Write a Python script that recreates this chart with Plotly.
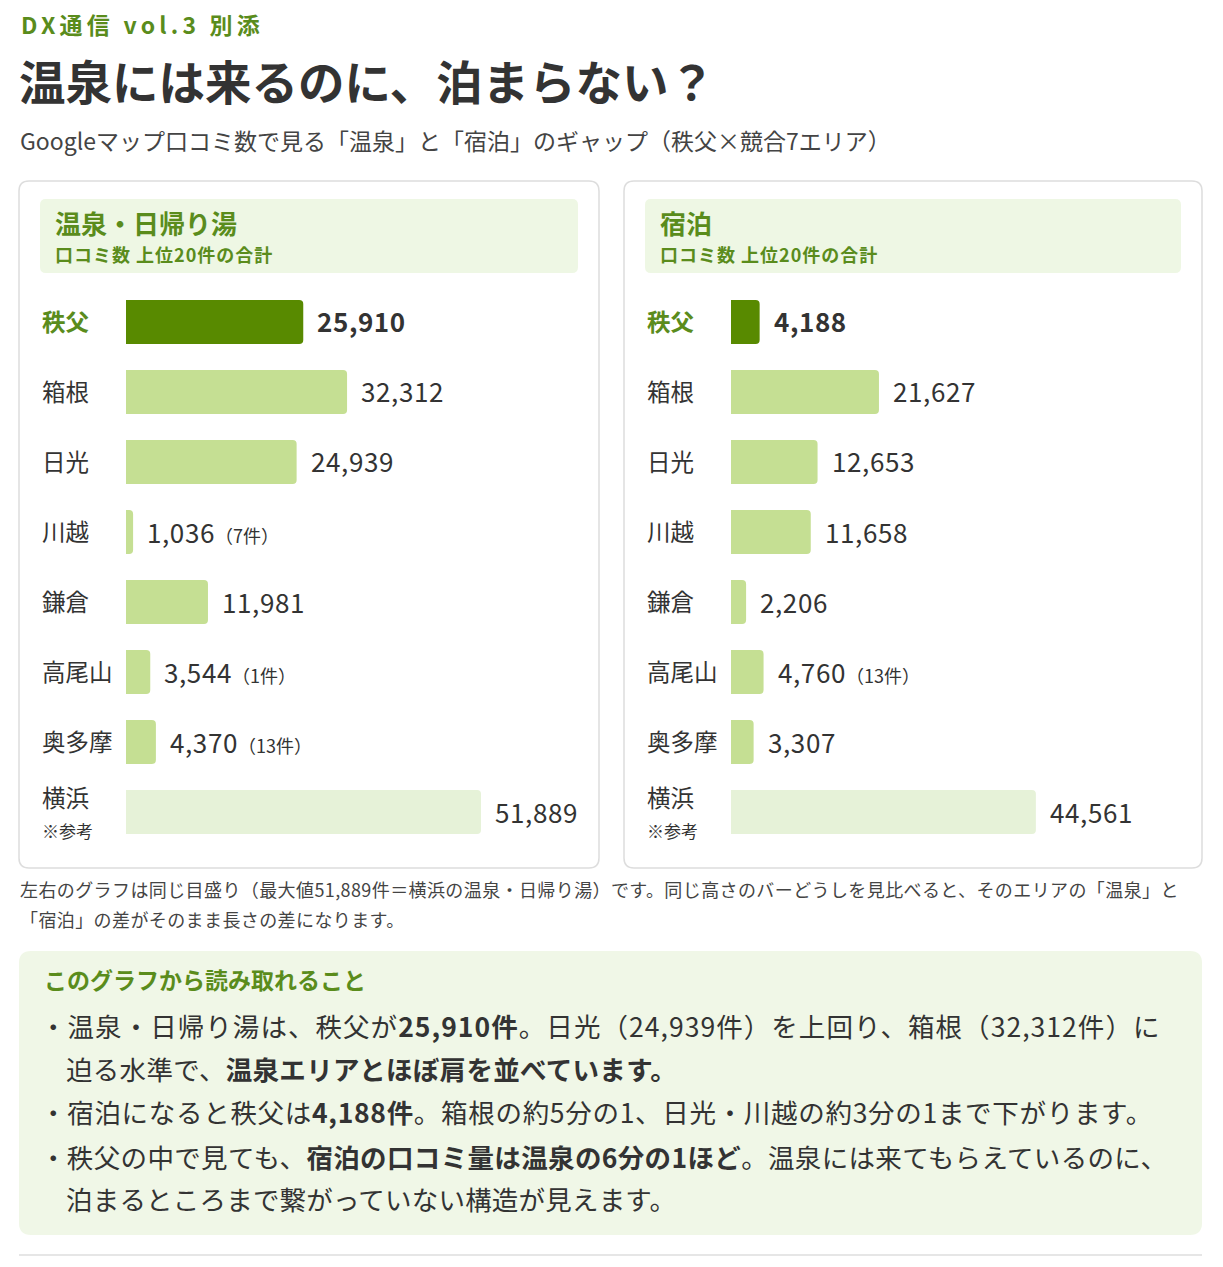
import plotly.graph_objects as go

# page body has an 8px margin, so the figure is drawn 16px smaller and offset
PAGE_W, PAGE_H, OFF = 1223, 1267, 8
W, H = PAGE_W - 2 * OFF, PAGE_H - 2 * OFF
FONT = "Noto Sans CJK JP"
GREEN = "#5a8c1c"
DARK = "#333333"

areas = ["秩父", "箱根", "日光", "川越", "鎌倉", "高尾山", "奥多摩", "横浜"]
onsen = [25910, 32312, 24939, 1036, 11981, 3544, 4370, 51889]
stay = [4188, 21627, 12653, 11658, 2206, 4760, 3307, 44561]
onsen_note = ["", "", "", "（7件）", "", "（1件）", "（13件）", ""]
stay_note = ["", "", "", "", "", "（13件）", "", ""]
scale_max = 51889

bar_colors = ["#588a00"] + ["#c5df93"] * 6 + ["#e6f2d8"]


def px(x):
    return (x - OFF) / W


def py(y):
    return 1 - (y - OFF) / H


def rrect(x0, y0, x1, y1, r):
    # rounded rectangle path in paper coords, input in page pixels
    pts = [
        ("M", x0 + r, y0), ("L", x1 - r, y0), ("Q", x1, y0, x1, y0 + r),
        ("L", x1, y1 - r), ("Q", x1, y1, x1 - r, y1), ("L", x0 + r, y1),
        ("Q", x0, y1, x0, y1 - r), ("L", x0, y0 + r), ("Q", x0, y0, x0 + r, y0),
    ]
    out = []
    for p in pts:
        if p[0] == "Q":
            out.append(f"Q{px(p[1]):.5f},{py(p[2]):.5f} {px(p[3]):.5f},{py(p[4]):.5f}")
        else:
            out.append(f"{p[0]}{px(p[1]):.5f},{py(p[2]):.5f}")
    return " ".join(out) + " Z"


def spaced(t, ls):
    return f"<span style='letter-spacing:{ls}px'>{t}</span>"


fig = go.Figure()

panels = [
    ("x", "y", onsen, onsen_note, 126, 40, "温泉・日帰り湯", 19, 599),
    ("x2", "y2", stay, stay_note, 731, 645, "宿泊", 624, 1202),
]

annotations = []
shapes = []
for xa, ya, vals, notes, bar_x0, lab_x, head, bx0, bx1 in panels:
    fig.add_trace(go.Bar(
        x=vals, y=areas, orientation="h", xaxis=xa, yaxis=ya,
        marker=dict(color=bar_colors, cornerradius=4, line=dict(width=0)),
        width=0.63, hoverinfo="skip", showlegend=False,
    ))
    # panel frame + header
    shapes.append(dict(type="path", path=rrect(bx0, 181, bx1, 868, 10), xref="paper", yref="paper",
                       line=dict(color="#dddddd", width=1.5), fillcolor="white", layer="below"))
    shapes.append(dict(type="path", path=rrect(bx0 + 21, 199, bx1 - 21, 273, 6), xref="paper", yref="paper",
                       line=dict(width=0), fillcolor="#eef7e4", layer="below"))
    annotations.append(dict(text=f"<b>{head}</b>", x=px(bx0 + 34), y=py(223), xref="paper", yref="paper",
                            xanchor="left", yanchor="middle", showarrow=False,
                            font=dict(size=26, color=GREEN, family=FONT)))
    annotations.append(dict(text=spaced("<b>口コミ数 上位20件の合計</b>", 1), x=px(bx0 + 34), y=py(254),
                            xref="paper", yref="paper", xanchor="left", yanchor="middle", showarrow=False,
                            font=dict(size=18, color=GREEN, family=FONT)))
    for i, (a, v, n) in enumerate(zip(areas, vals, notes)):
        if i == 0:
            lab = f"<b>{a}</b>"
            col = GREEN
        elif a == "横浜":
            lab = f"{a}<br><span style='font-size:17px'>※参考</span>"
            col = DARK
        else:
            lab = a
            col = DARK
        annotations.append(dict(text=lab, x=px(lab_x), y=a, xref="paper", yref=ya,
                                xanchor="left", yanchor="middle", align="left", showarrow=False, yshift=1,
                                font=dict(size=23.5, color=col, family=FONT)))
        num = f"{v:,}"
        if i == 0:
            num = f"<b>{num}</b>"
        num = spaced(num, 0.6)
        if n:
            num += f"<span style='font-size:18px'>{n}</span>"
        annotations.append(dict(text=num, x=v, y=a, xref=xa, yref=ya, xanchor="left", yanchor="middle",
                                xshift=12, yshift=1, showarrow=False,
                                font=dict(size=26, color=DARK, family=FONT)))

# bottom summary box and rule
shapes.append(dict(type="path", path=rrect(19, 951, 1202, 1235, 12), xref="paper", yref="paper",
                   line=dict(width=0), fillcolor="#f0f7e7", layer="below"))
shapes.append(dict(type="line", x0=px(19), x1=px(1202), y0=py(1255), y1=py(1255), xref="paper", yref="paper",
                   line=dict(color="#e6e6e6", width=2)))

texts = [
    (spaced("<b>DX通信 vol.3 別添</b>", 4.2), 19, 24, 23, GREEN),
    ("<b>温泉には来るのに、泊まらない？</b>", 17, 79, 46.5, DARK),
    ("Googleマップ口コミ数で見る「温泉」と「宿泊」のギャップ（秩父×競合7エリア）", 18, 140, 23, "#444444"),
    (spaced("左右のグラフは同じ目盛り（最大値51,889件＝横浜の温泉・日帰り湯）です。同じ高さのバーどうしを見比べると、そのエリアの「温泉」と", 0.4),
     18, 889, 18, "#444444"),
    (spaced("「宿泊」の差がそのまま長さの差になります。", 0.4), 18, 919, 18, "#444444"),
    ("<b>このグラフから読み取れること</b>", 42, 979, 23, GREEN),
    (spaced("・温泉・日帰り湯は、秩父が<b>25,910件</b>。日光（24,939件）を上回り、箱根（32,312件）に", 1.05), 38, 1025, 26.5, DARK),
    (spaced("迫る水準で、<b>温泉エリアとほぼ肩を並べています。</b>", 0.3), 64, 1068, 26.5, DARK),
    (spaced("・宿泊になると秩父は<b>4,188件</b>。箱根の約5分の1、日光・川越の約3分の1まで下がります。", 0.7), 38, 1111, 26.5, DARK),
    (spaced("・秩父の中で見ても、<b>宿泊の口コミ量は温泉の6分の1ほど</b>。温泉には来てもらえているのに、", 0.35), 38, 1156, 26.5, DARK),
    (spaced("泊まるところまで繋がっていない構造が見えます。", 0.2), 64, 1198, 26.5, DARK),
]
for t, x, y, s, c in texts:
    annotations.append(dict(text=t, x=px(x), y=py(y), xref="paper", yref="paper", xanchor="left",
                            yanchor="middle", showarrow=False, font=dict(size=s, color=c, family=FONT)))

axis_off = dict(visible=False, showgrid=False, zeroline=False, fixedrange=True)
ydom = [py(847), py(287)]
fig.update_layout(
    width=W, height=H, margin=dict(l=0, r=0, t=0, b=0),
    paper_bgcolor="white", plot_bgcolor="rgba(0,0,0,0)",
    font=dict(family=FONT, color=DARK),
    xaxis=dict(domain=[px(126), px(481)], range=[0, scale_max], **axis_off),
    xaxis2=dict(domain=[px(731), px(1086)], range=[0, scale_max], **axis_off),
    yaxis=dict(domain=ydom, autorange="reversed", anchor="x", **axis_off),
    yaxis2=dict(domain=ydom, autorange="reversed", anchor="x2", **axis_off),
    shapes=shapes, annotations=annotations, bargap=0.37,
)

fig.write_html("out.html")
